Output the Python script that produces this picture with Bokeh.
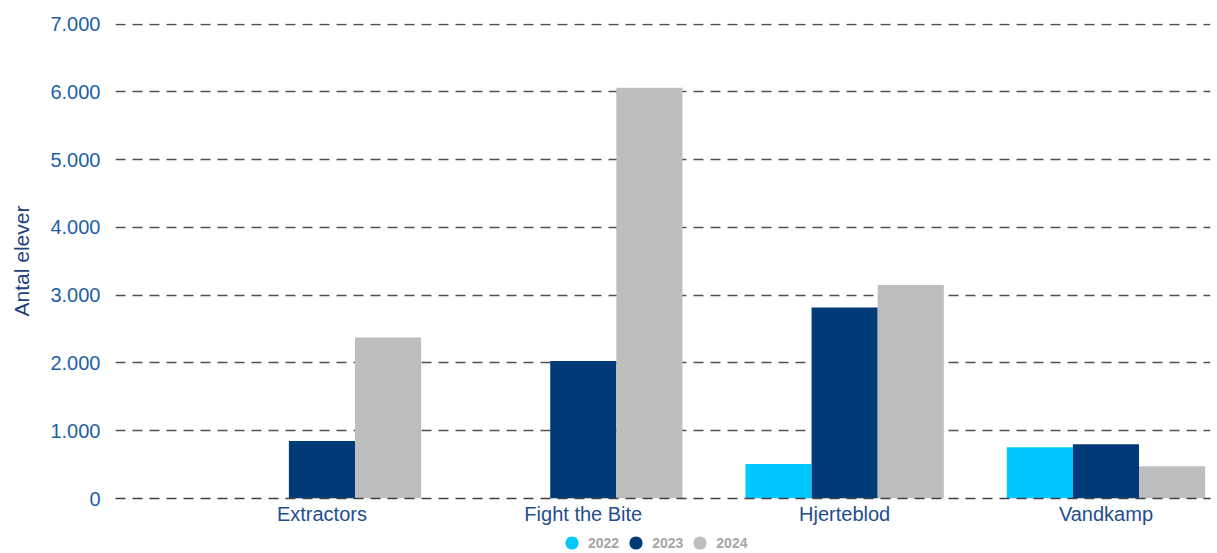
import numpy as np
from bokeh.plotting import figure
from bokeh.layouts import column
from bokeh.models import (ColumnDataSource, Range1d, FixedTicker, Legend, LegendItem)
from bokeh.transform import dodge
from bokeh.embed import file_html
from bokeh.resources import INLINE

# ---- data ----
categories = ["Extractors", "Fight the Bite", "Hjerteblod", "Vandkamp"]
years = ["2022", "2023", "2024"]
values_2022 = [0, 0, 510, 755]
values_2023 = [850, 2030, 2820, 800]
values_2024 = [2375, 6060, 3150, 475]
y_ticks = [0, 1000, 2000, 3000, 4000, 5000, 6000, 7000]
y_tick_labels = ["0", "1.000", "2.000", "3.000", "4.000", "5.000", "6.000", "7.000"]

colors = ["#00C8FF", "#003A78", "#BDBEC0"]
label_blue = "#1F4E8C"

src = ColumnDataSource(dict(
    x=list(range(len(categories))),
    y2022=values_2022, y2023=values_2023, y2024=values_2024,
))

p = figure(width=1215, height=530, output_backend="svg", toolbar_location=None,
           x_range=Range1d(-0.79, 3.40), y_range=Range1d(0, 7010),
           min_border_left=115, min_border_top=23, min_border_bottom=32,
           min_border_right=5)
p.outline_line_color = None
p.background_fill_color = "white"

bw = 0.253
p.vbar(x=dodge("x", -bw, range=p.x_range), top="y2022", width=bw, source=src,
       fill_color=colors[0], line_color=None)
p.vbar(x=dodge("x", 0, range=p.x_range), top="y2023", width=bw, source=src,
       fill_color=colors[1], line_color=None)
p.vbar(x=dodge("x", bw, range=p.x_range), top="y2024", width=bw, source=src,
       fill_color=colors[2], line_color=None)

# axes
p.xaxis.ticker = FixedTicker(ticks=list(range(len(categories))))
p.xaxis.major_label_overrides = {i: c for i, c in enumerate(categories)}
p.xaxis.major_tick_line_color = None
p.xaxis.major_tick_out = 0
p.xaxis.major_tick_in = 0
p.xaxis.minor_tick_line_color = None
p.xaxis.axis_line_color = "#404040"
p.xaxis.axis_line_width = 1.5
p.xaxis.axis_line_dash = "10 7"
p.xaxis.major_label_text_font = "Liberation Sans"
p.xaxis.major_label_text_font_size = "20px"
p.xaxis.major_label_text_color = label_blue
p.xaxis.major_label_standoff = 4

p.yaxis.ticker = FixedTicker(ticks=y_ticks)
p.yaxis.major_label_overrides = {t: l for t, l in zip(y_ticks, y_tick_labels)}
p.yaxis.axis_line_color = None
p.yaxis.major_tick_line_color = None
p.yaxis.major_tick_out = 0
p.yaxis.major_tick_in = 0
p.yaxis.minor_tick_line_color = None
p.yaxis.major_label_text_font = "Liberation Sans"
p.yaxis.major_label_text_font_size = "20px"
p.yaxis.major_label_text_color = "#1F5FA8"
p.yaxis.major_label_standoff = 15
p.yaxis.axis_label = "Antal elever"
p.yaxis.axis_label_text_font = "Liberation Sans"
p.yaxis.axis_label_text_font_style = "normal"
p.yaxis.axis_label_text_font_size = "21px"
p.yaxis.axis_label_text_color = "#1F3F7F"
p.yaxis.axis_label_standoff = 14

p.xgrid.grid_line_color = None
p.ygrid.grid_line_color = "#505050"
p.ygrid.grid_line_width = 1.5
p.ygrid.grid_line_dash = "10 7"

# ---- legend strip below the chart ----
lf = figure(width=1215, height=23, output_backend="svg", toolbar_location=None,
            x_axis_type=None, y_axis_type=None,
            x_range=Range1d(0, 1), y_range=Range1d(0, 1),
            min_border=0, min_border_left=0, min_border_right=0,
            min_border_top=0, min_border_bottom=0)
lf.outline_line_color = None
lf.xgrid.visible = False
lf.ygrid.visible = False
markers = []
for c in colors:
    s = ColumnDataSource(dict(x=[np.nan], y=[np.nan]))
    markers.append(lf.scatter(x="x", y="y", source=s, marker="circle", size=14,
                              fill_color=c, line_color=None))

legend = Legend(items=[LegendItem(label=y, renderers=[r], index=0)
                       for y, r in zip(years, markers)],
                orientation="horizontal", location=(440, -6),
                glyph_width=33, glyph_height=33, label_standoff=0, spacing=0,
                padding=0, margin=0, border_line_color=None, background_fill_alpha=0,
                label_text_font="Liberation Sans", label_text_font_size="14px",
                label_text_font_style="bold", label_text_color="#A6A6A6")
lf.add_layout(legend, "center")

layout = column(p, lf, spacing=0)
open("out.html", "w").write(file_html(layout, INLINE))
